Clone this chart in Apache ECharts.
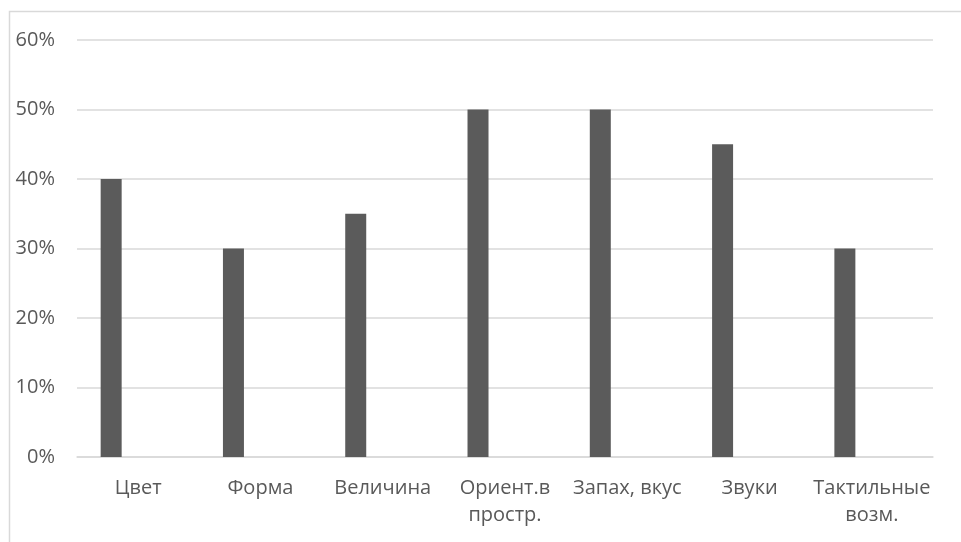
<!DOCTYPE html>
<html>
<head>
<meta charset="utf-8">
<script src="https://cdn.jsdelivr.net/npm/echarts@6/dist/echarts.min.js"></script>
<style>
html,body{margin:0;padding:0;background:#fff;}
#c{width:961px;height:542px;}
</style>
</head>
<body>
<div id="c"></div>
<script>
const categories = ['Цвет', 'Форма', 'Величина', 'Ориент.в\nпростр.', 'Запах, вкус', 'Звуки', 'Тактильные\nвозм.'];
const values = [40, 30, 35, 50, 50, 45, 30];
const emptySeries = [null, null, null, null, null, null, null];
const yMin = 0, yMax = 60, yStep = 10;

const chart = echarts.init(document.getElementById('c'), null, {renderer: 'canvas'});
chart.setOption({
  backgroundColor: '#ffffff',
  animation: false,
  graphic: [{
    type: 'rect',
    shape: {x: 9.5, y: 11.5, width: 960, height: 540},
    style: {fill: 'none', stroke: '#d9d9d9', lineWidth: 1.5},
    silent: true
  }],
  grid: {left: 77, right: 28, top: 40, bottom: 85, containLabel: false},
  xAxis: {
    type: 'category',
    data: categories,
    axisLine: {show: true, lineStyle: {color: '#d9d9d9', width: 1.5}},
    axisTick: {show: false},
    axisLabel: {
      color: '#595959', fontFamily: 'Open Sans', fontSize: 20,
      lineHeight: 27, margin: 18, interval: 0, align: 'center'
    }
  },
  yAxis: {
    type: 'value',
    min: yMin, max: yMax, interval: yStep,
    axisLine: {show: false},
    axisTick: {show: false},
    splitLine: {lineStyle: {color: '#d9d9d9', width: 1.5}},
    axisLabel: {
      color: '#595959', fontFamily: 'Open Sans', fontSize: 20,
      margin: 22, formatter: '{value}%'
    }
  },
  series: [{
    type: 'bar',
    data: values,
    barWidth: 21,
    barGap: '157%',
    itemStyle: {color: '#5b5b5b'}
  }, {
    type: 'bar',
    data: emptySeries,
    barWidth: 21,
    itemStyle: {color: '#a5a5a5'}
  }]
});
</script>
</body>
</html>
